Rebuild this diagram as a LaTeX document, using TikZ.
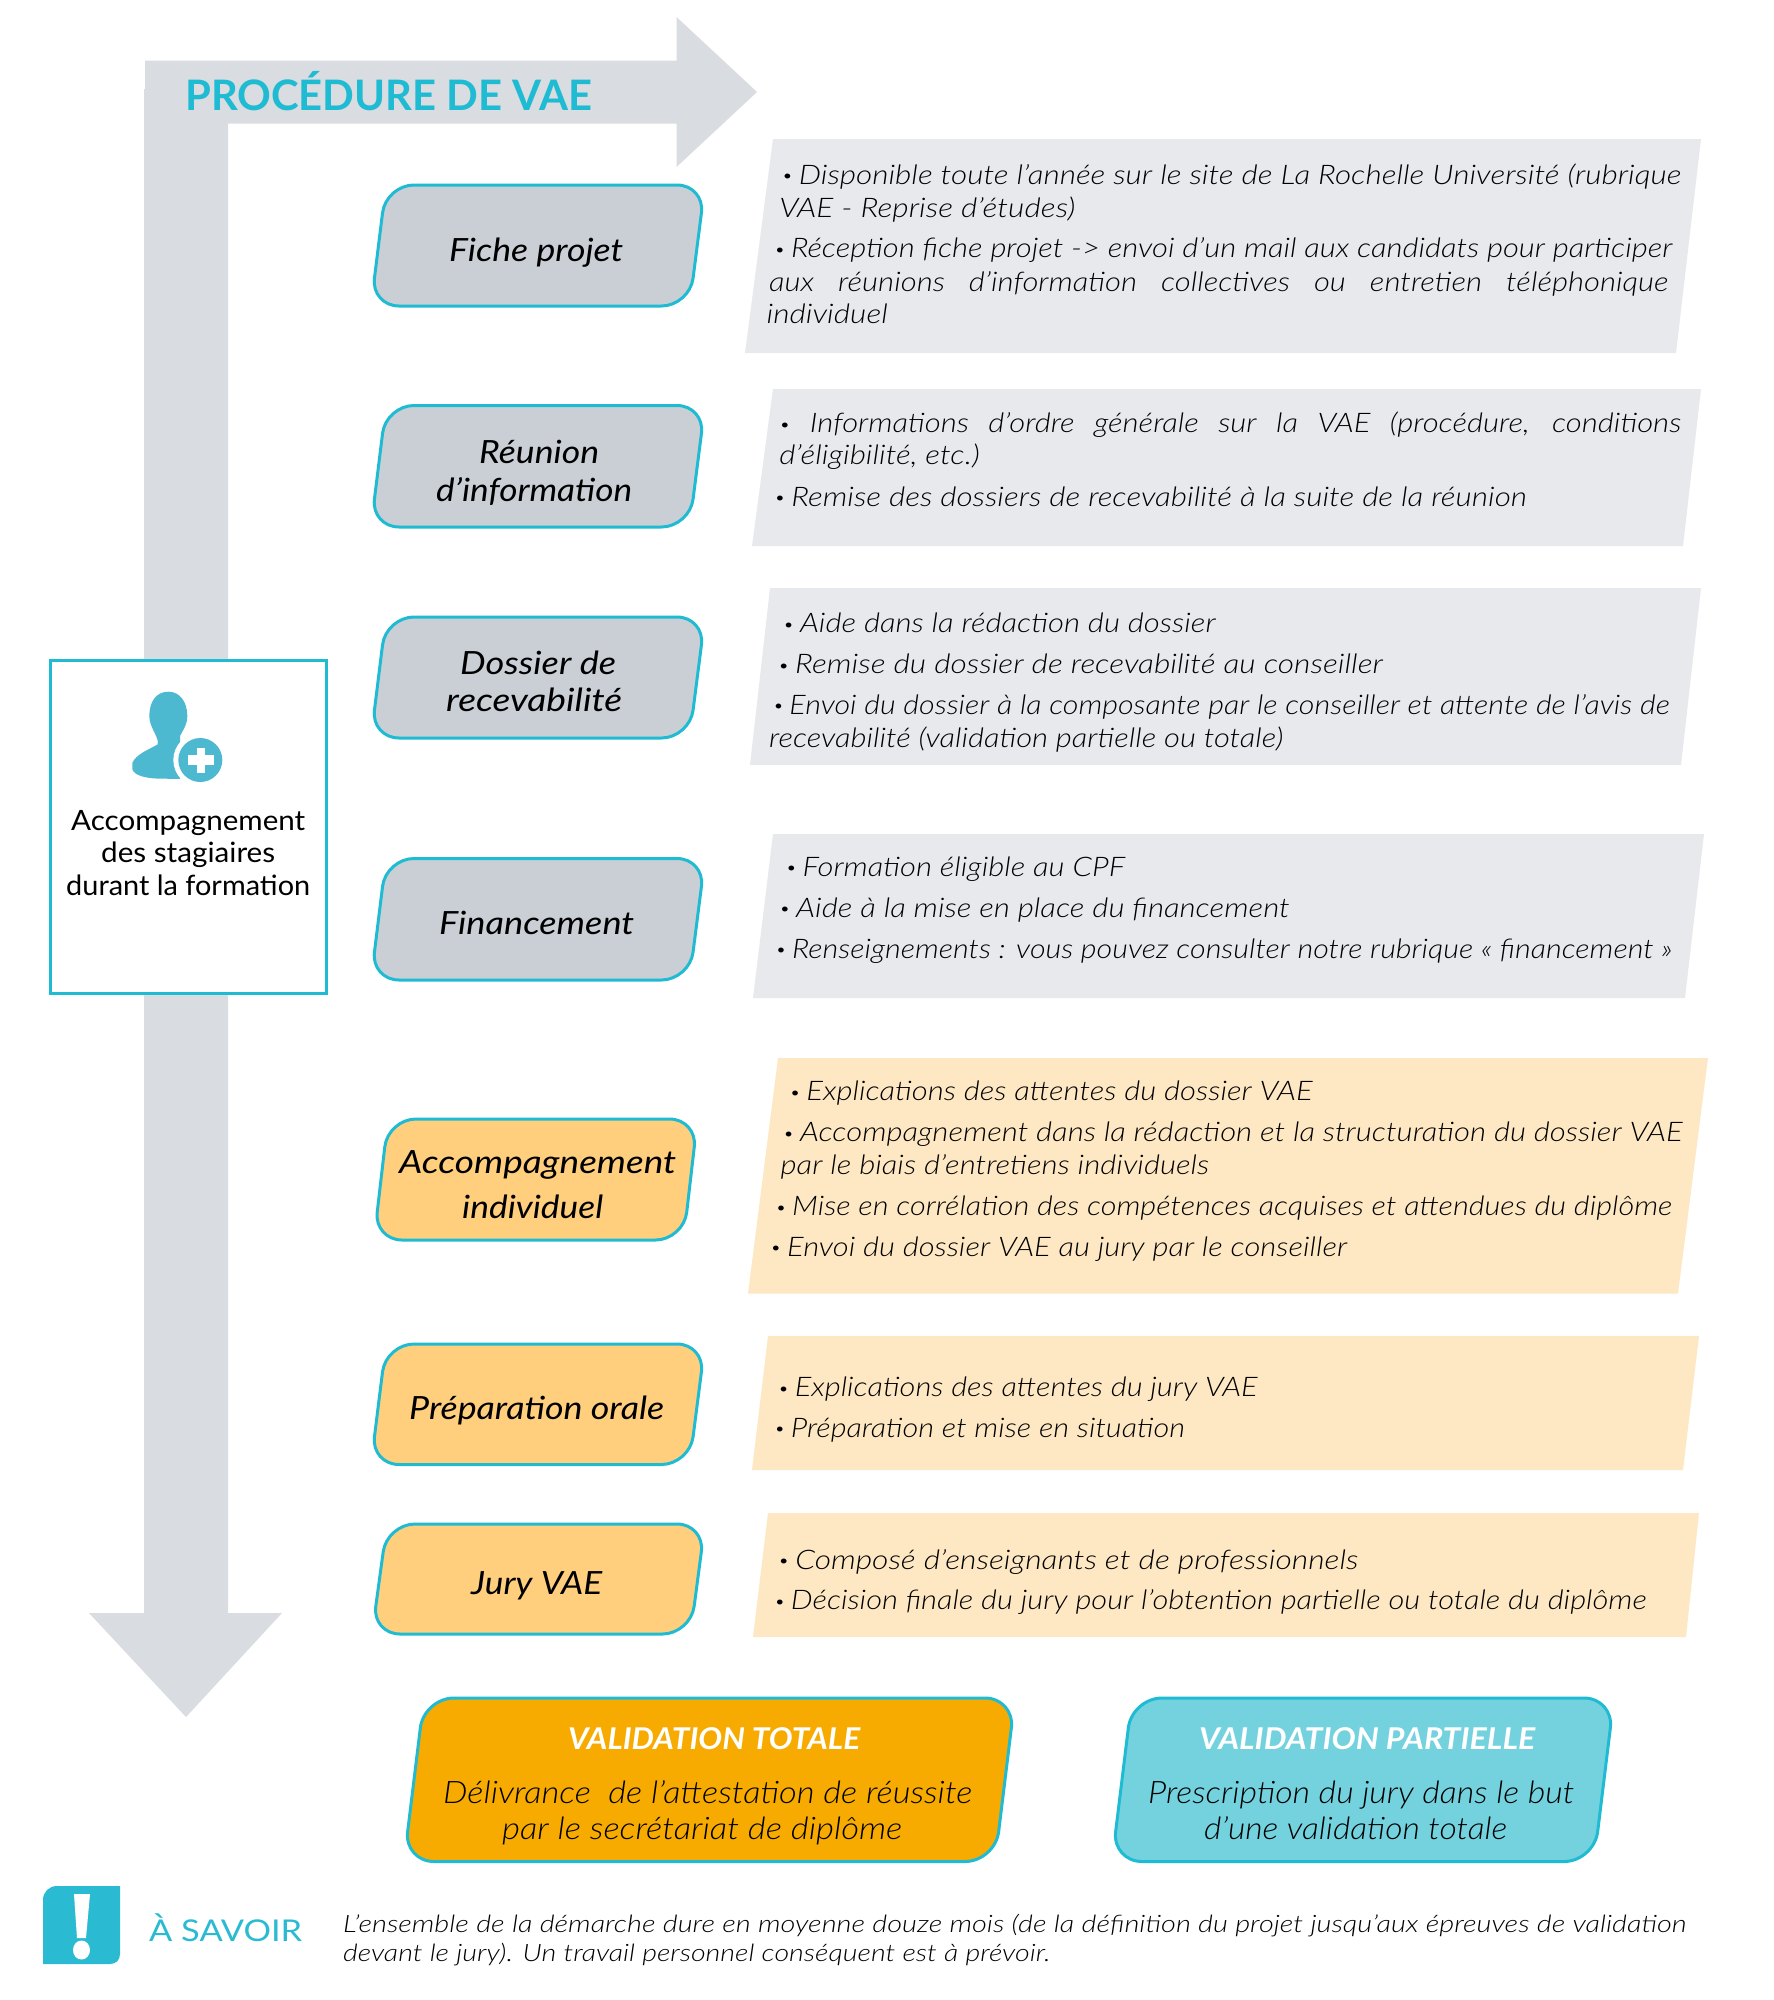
\documentclass[tikz,border=0pt]{standalone}
\usepackage{fontspec}
\usepackage{graphicx}
\setmainfont{Lato}
\newfontfamily\lightf{Lato Light}
\definecolor{teal}{HTML}{1FBBD3}
\definecolor{arrowgrey}{HTML}{D9DCE0}
\definecolor{pillgrey}{HTML}{CACFD6}
\definecolor{pillorange}{HTML}{FFCF7E}
\definecolor{panelgrey}{HTML}{E8E9ED}
\definecolor{panelorange}{HTML}{FEE8C4}
\definecolor{valorange}{HTML}{F7AB00}
\definecolor{valblue}{HTML}{73D2DE}
\definecolor{iconblue}{HTML}{4CB9D1}
\definecolor{savoirblue}{HTML}{2ABBD2}
\newcount\lnum
% real coordinates: x1 x2 baseline text
\newcommand{\rl}[5][]{\global\advance\lnum by 1
 \node[anchor=base west,inner sep=0pt,#1] (line\the\lnum) at (#2,#4) {\resizebox{\dimexpr #3pt-#2pt\relax}{\height}{#5}};}
\newcommand{\pfont}{\fontsize{27}{30}\selectfont\lightf\itshape}
% small bullet, as printed
\newcommand{\bu}{\raisebox{.1em}{\scalebox{.62}{•}}\hspace{.18em}}
% display coordinates: x1 x2 ycentre text
\newcommand{\pl}[4]{\pgfmathsetmacro\xa{#1*1.2753}\pgfmathsetmacro\xb{#2*1.2753}\pgfmathsetmacro\yb{(#3+7.3)*1.2753}%
 \rl{\xa}{\xb}{\yb}{\pfont #4}}
\newcommand{\pillfont}{\fontsize{32}{36}\selectfont\itshape}
\newcommand{\valfont}{\fontsize{31}{36}\selectfont\lightf\itshape}
\tikzset{
 pillg/.style={draw=teal,line width=3pt,fill=pillgrey,rounded corners=28pt},
 pillo/.style={draw=teal,line width=3pt,fill=pillorange,rounded corners=28pt},
}
\begin{document}
\begin{tikzpicture}[x=1pt,y=-1pt]
\path[use as bounding box,fill=white] (0,0) rectangle (1774,2000);
% big arrow
\fill[arrowgrey] (145,60.5)--(676.5,60.5)--(676.5,17)--(757,92)--(676.5,167)--(676.5,123.5)--(228,123.5)--(228,1613)--(282,1613)--(186,1717)--(89,1613)--(144,1613)--(144,89)--(145,89)--cycle;
\rl{185}{592}{110}{\fontsize{42}{46}\selectfont\bfseries\color{teal}PROCÉDURE DE VAE}
% left box
\draw[teal,line width=3pt,fill=white] (50,660) rectangle (326,993);
\fill[iconblue] (168.3,691.7) .. controls (180,691.7) and (187.3,702) .. (187.3,716)
  .. controls (187.3,725) and (183,730) .. (180,736) -- (180,779) -- (156,778.5)
  .. controls (145,778) and (133.5,775) .. (132.3,769) -- (132.3,763)
  .. controls (136,754) and (150,749) .. (157.5,744.5)
  .. controls (160,738) and (149.3,728) .. (149.3,716)
  .. controls (149.3,702) and (156,691.7) .. (168.3,691.7) -- cycle;
\fill[white] (200.3,760) circle (27);
\fill[iconblue] (200.3,760) circle (22);
\fill[white] (187.5,755) rectangle (213.5,765);
\fill[white] (196.5,747.5) rectangle (204.5,773);
\rl{71}{305}{830}{\fontsize{28}{32}\selectfont Accompagnement}
\rl{101}{275}{862.5}{\fontsize{28}{32}\selectfont des stagiaires}
\rl{66}{310}{895}{\fontsize{28}{32}\selectfont durant la formation}
% pills
\draw[pillg] (386,185)--(705,185)--(689.5,306)--(371,306)--cycle;
\draw[pillg] (386,405.5)--(705,405.5)--(689.5,527)--(371,527)--cycle;
\draw[pillg] (386,617)--(705,617)--(689.5,738)--(371,738)--cycle;
\draw[pillg] (386,858.5)--(705,858.5)--(689.5,980)--(371,980)--cycle;
\draw[pillo] (388,1119)--(697.5,1119)--(683.5,1240)--(374,1240)--cycle;
\draw[pillo] (386,1344)--(705,1344)--(689.5,1464.5)--(371,1464.5)--cycle;
\draw[pillo] (387,1524)--(705,1524)--(690.5,1634)--(372,1634)--cycle;
\rl{449}{623}{261}{\pillfont Fiche projet}
\rl{479}{599}{463}{\pillfont Réunion}
\rl{436}{632}{501}{\pillfont d’information}
\rl{460}{616}{674}{\pillfont Dossier de}
\rl{446}{622}{711}{\pillfont recevabilité}
\rl{439}{634}{934.5}{\pillfont Financement}
\rl{399}{676}{1173}{\pillfont Accompagnement}
\rl{462}{603}{1218}{\pillfont individuel}
\rl{409}{664}{1419.5}{\pillfont Préparation orale}
\rl{471}{602}{1594.5}{\pillfont Jury VAE}
% panels
\fill[panelgrey] (773,139)--(1701,139)--(1676,353)--(745,353)--cycle;
\fill[panelgrey] (773,389)--(1701,389)--(1683,546)--(752,546)--cycle;
\fill[panelgrey] (770,588)--(1701,588)--(1681,765)--(750,765)--cycle;
\fill[panelgrey] (773,834)--(1704,834)--(1685,998)--(753,998)--cycle;
\fill[panelorange] (778,1058)--(1708,1058)--(1678,1293.5)--(748,1293.5)--cycle;
\fill[panelorange] (768,1336)--(1699,1336)--(1683,1470)--(752,1470)--cycle;
\fill[panelorange] (768,1513)--(1699,1513)--(1686,1637)--(753,1637)--cycle;
\pl{613}{1318}{137}{\bu Disponible toute l’année sur le site de La Rochelle Université (rubrique}
\pl{611}{843}{163}{VAE - Reprise d’études)}
\pl{607}{1311}{195}{\bu Réception fiche projet -> envoi d’un mail aux candidats pour participer}
\pl{603}{1308}{221}{\makebox[782pt][s]{aux réunions d’information collectives ou entretien téléphonique}}
\pl{601}{696}{246}{individuel}
\pl{611}{1318}{332}{\makebox[784pt][s]{\raisebox{.1em}{\scalebox{.62}{•}} Informations d’ordre générale sur la VAE (procédure, conditions}}
\pl{611}{768}{357}{d’éligibilité, etc.)}
\pl{607}{1197}{390}{\bu Remise des dossiers de recevabilité à la suite de la réunion}
\pl{614}{953}{489}{\bu Aide dans la rédaction du dossier}
\pl{610}{1084}{521}{\bu Remise du dossier de recevabilité au conseiller}
\pl{606}{1309}{553}{\bu Envoi du dossier à la composante par le conseiller et attente de l’avis de}
\pl{603}{1006}{579}{recevabilité (validation partielle ou totale)}
\pl{616}{882}{680}{\bu Formation éligible au CPF}
\pl{611}{1011}{712}{\bu Aide à la mise en place du financement}
\pl{608}{1311}{744}{\bu Renseignements : vous pouvez consulter notre rubrique « financement »}
\pl{619}{1029}{856}{\bu Explications des attentes du dossier VAE}
\pl{614}{1319}{888}{\bu Accompagnement dans la rédaction et la structuration du dossier VAE}
\pl{612}{948}{914}{par le biais d’entretiens individuels}
\pl{608}{1311}{946}{\bu Mise en corrélation des compétences acquises et attendues du diplôme}
\pl{604}{1056}{978}{\bu Envoi du dossier VAE au jury par le conseiller}
\pl{610}{986}{1088}{\bu Explications des attentes du jury VAE}
\pl{607}{929}{1120}{\bu Préparation et mise en situation}
\pl{610}{1065}{1223}{\bu Composé d’enseignants et de professionnels}
\pl{607}{1291}{1255}{\bu Décision finale du jury pour l’obtention partielle ou totale du diplôme}
% validation
\draw[draw=teal,line width=3pt,fill=valorange,rounded corners=30pt] (424,1698)--(1015,1698)--(995,1861.5)--(404,1861.5)--cycle;
\draw[draw=teal,line width=3pt,fill=valblue,rounded corners=30pt] (1132,1698)--(1614,1698)--(1594,1861.5)--(1112,1861.5)--cycle;
\rl{568}{860}{1749}{\fontsize{30}{34}\selectfont\bfseries\itshape\color{white}VALIDATION TOTALE}
\rl{443}{972}{1803}{\valfont Délivrance\ \ de l’attestation de réussite}
\rl{502}{902}{1839}{\valfont par le secrétariat de diplôme}
\rl{1199}{1535}{1749}{\fontsize{30}{34}\selectfont\bfseries\itshape\color{white}VALIDATION PARTIELLE}
\rl{1148}{1574}{1803}{\valfont Prescription du jury dans le but}
\rl{1204}{1507}{1839}{\valfont d’une validation totale}
% a savoir
\fill[savoirblue] (43,1964)--(43,1900) .. controls (43,1892) and (49,1886) .. (57,1886)--(120,1886)--(120,1954) .. controls (120,1960) and (116,1964) .. (110,1964)--cycle;
\fill[white] (74,1894)--(90,1894)--(86,1938)--(77,1938)--cycle;
\fill[white] (81.5,1950) ellipse (8.5 and 9.5);
\rl{149}{302}{1941}{\fontsize{30}{34}\selectfont\color{savoirblue}À SAVOIR}
\rl{343}{1686}{1932}{\fontsize{24}{28}\selectfont\lightf\itshape L’ensemble de la démarche dure en moyenne douze mois (de la définition du projet jusqu’aux épreuves de validation}
\rl{343}{1050}{1961}{\fontsize{24}{28}\selectfont\lightf\itshape devant le jury). Un travail personnel conséquent est à prévoir.}
\end{tikzpicture}
\end{document}
